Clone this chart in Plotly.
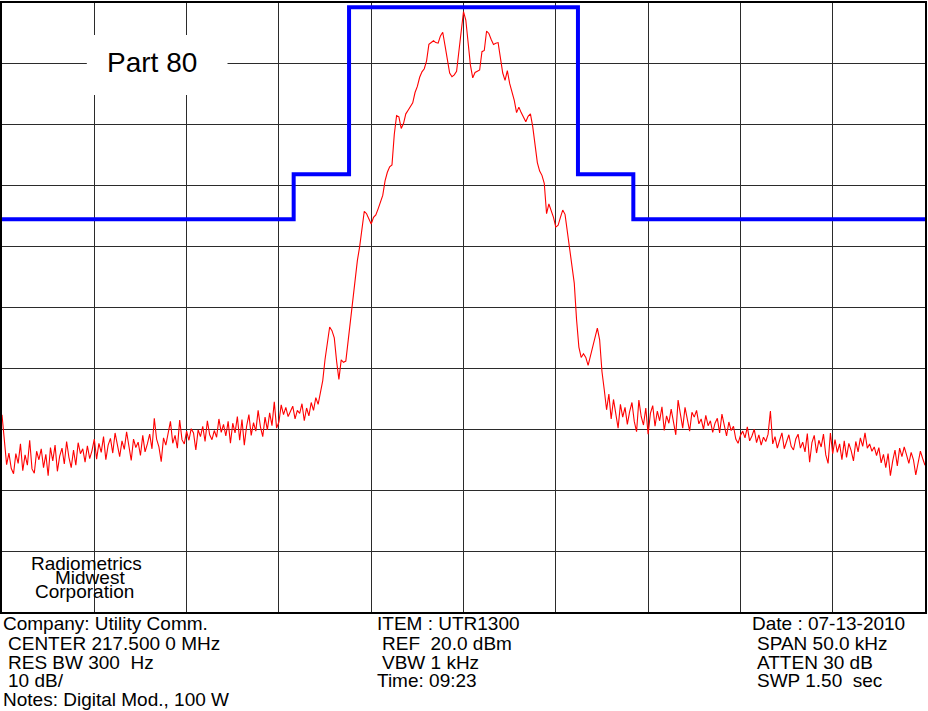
import numpy as np
import plotly.graph_objects as go

# Analyzer settings
CENTER_MHZ = 217.5
SPAN_KHZ = 50.0
REF_DBM = 20.0
DB_PER_DIV = 10.0
N_DIV = 10

# Swept trace, 401 points across the span (dBm)
LEVEL_DBM = [
    -47.6, -52.0, -55.8, -53.9, -56.4, -57.3, -54.0, -55.6, -52.4, -56.8,
    -54.2, -55.9, -51.8, -56.5, -57.2, -53.6, -55.0, -53.2, -56.3, -54.1,
    -57.6, -53.0, -55.2, -52.6, -56.9, -54.4, -53.1, -55.7, -52.0, -54.6,
    -56.3, -53.4, -55.9, -52.2, -54.0, -53.2, -55.4, -52.7, -54.8, -53.5,
    -51.6, -54.9, -52.3, -53.8, -51.2, -55.0, -52.6, -51.5, -53.9, -50.6,
    -52.8, -54.5, -51.9, -53.3, -50.4, -52.7, -55.1, -51.6, -53.0, -52.1,
    -54.3, -51.0, -53.7, -52.4, -50.8, -53.2, -48.2, -51.6, -52.9, -55.3,
    -51.4, -52.6, -50.9, -48.7, -52.3, -51.0, -53.1, -48.5, -51.7, -52.4,
    -50.3, -51.8, -49.9, -50.6, -53.4, -50.1, -51.2, -49.5, -52.0, -48.6,
    -50.9, -51.7, -50.2, -51.3, -48.3, -50.5, -49.2, -51.1, -48.7, -52.3,
    -49.0, -50.6, -47.9, -51.8, -48.4, -52.6, -49.5, -47.6, -51.0, -48.9,
    -50.3, -46.9, -49.6, -51.2, -48.0, -50.1, -47.3, -49.4, -45.5, -49.8,
    -48.8, -46.0, -47.6, -46.4, -47.9, -47.0, -46.2, -48.3, -46.9, -47.4,
    -45.8, -48.6, -46.5, -47.8, -45.6, -46.9, -44.8, -45.9, -43.6, -42.0,
    -38.5, -35.5, -33.2, -33.8, -35.0, -38.8, -41.8, -38.6, -39.0, -38.8,
    -35.5, -31.8, -29.0, -26.0, -22.3, -20.0, -17.5, -14.2, -14.6, -15.6,
    -16.3, -15.2, -14.8, -13.8, -12.8, -11.6, -9.2, -7.8, -6.9, -6.6,
    -1.6, 1.5, 1.3, -0.6, 0.2, 1.8, 2.4, 3.0, 3.6, 5.3,
    6.3, 7.8, 8.7, 9.2, 10.5, 13.2, 13.5, 13.8, 13.5, 13.4,
    14.6, 15.2, 13.0, 10.9, 8.5, 7.9, 8.2, 8.8, 12.0, 15.6,
    18.6, 17.2, 13.6, 9.8, 7.7, 8.6, 8.8, 9.0, 12.0, 12.2,
    15.4, 15.0, 14.0, 13.2, 13.4, 13.5, 11.0, 8.5, 7.3, 8.9,
    6.8, 5.3, 4.0, 2.0, 2.9, 2.0, 1.2, 0.5, 1.4, 1.8,
    -0.3, -3.5, -6.2, -7.6, -8.3, -9.6, -14.6, -13.0, -14.0, -15.2,
    -16.8, -16.5, -15.2, -14.0, -14.7, -17.5, -20.2, -23.2, -26.0, -32.0,
    -36.5, -38.2, -37.6, -38.2, -39.5, -38.0, -36.5, -34.5, -33.4, -35.3,
    -40.5, -43.5, -46.8, -44.2, -48.3, -45.1, -47.6, -49.8, -45.9, -48.0,
    -46.4, -49.2, -47.1, -45.6, -48.7, -50.4, -45.2, -47.9, -49.3, -46.5,
    -50.8, -47.4, -46.1, -49.5, -47.0, -48.6, -46.3, -50.2, -47.8, -49.0,
    -46.7, -48.5, -50.9, -45.2, -47.6, -49.8, -46.4, -48.1, -50.3, -47.2,
    -48.0, -46.9, -49.1, -48.3, -50.0, -47.7, -49.4, -48.6, -50.5, -49.0,
    -48.2, -50.6, -47.5, -49.3, -51.1, -48.8, -50.2, -49.5, -51.6, -52.3,
    -51.0, -50.3, -51.4, -49.6, -51.9, -51.1, -50.0, -52.2, -50.9, -52.6,
    -51.3, -52.0, -50.8, -47.0, -52.4, -51.2, -53.1, -51.8, -50.6, -53.2,
    -52.0, -50.9, -52.8, -53.4, -51.6, -50.8, -53.1, -52.1, -53.7, -50.7,
    -55.4, -52.2, -51.0, -53.9, -51.8, -52.9, -50.8, -54.2, -55.6, -50.6,
    -54.0, -51.7, -53.8, -52.4, -55.0, -51.9, -54.6, -52.3, -53.5, -55.2,
    -52.0, -53.7, -51.4, -52.8, -50.6, -53.1, -52.4, -53.6, -52.9, -54.3,
    -53.0, -55.5, -54.1, -56.3, -54.0, -57.6, -55.2, -53.4, -56.0, -53.1,
    -54.5, -52.9, -54.2, -55.6, -53.8, -55.0, -57.5, -55.4, -53.6, -54.8,
    -55.9,
]
freq_khz = np.linspace(-SPAN_KHZ / 2, SPAN_KHZ / 2, len(LEVEL_DBM))

# Part 80 emission mask (offset from center in kHz, limit in dBm)
MASK_KHZ = [-25.0, -9.2, -9.2, -6.2, -6.2, 6.2, 6.2, 9.2, 9.2, 25.0]
MASK_DBM = [-15.5, -15.5, -8.1, -8.1, 19.3, 19.3, -8.1, -8.1, -15.5, -15.5]

W, H = 928, 711
ML, MR, MT, MB = 2, 1, 3, 99
PW, PH = W - ML - MR, H - MT - MB


def px_x(p):
    return (p - ML) / PW


def px_y(p):
    return 1 - (p - MT) / PH


FONT = "Liberation Sans, Arial, sans-serif"

fig = go.Figure()
fig.add_trace(go.Scatter(
    x=freq_khz, y=LEVEL_DBM, mode="lines",
    line=dict(color="#ff0000", width=1.1), hoverinfo="skip",
))
fig.add_trace(go.Scatter(
    x=MASK_KHZ, y=MASK_DBM, mode="lines",
    line=dict(color="#0000ff", width=4), hoverinfo="skip",
))

grid = dict(showgrid=True, gridcolor="#2b2b2b", gridwidth=1.4,
            showticklabels=False, ticks="", zeroline=False,
            showline=True, mirror=True, linecolor="black", linewidth=1.5,
            fixedrange=True)
fig.update_xaxes(range=[-SPAN_KHZ / 2, SPAN_KHZ / 2], tick0=-SPAN_KHZ / 2,
                 dtick=SPAN_KHZ / N_DIV, **grid)
fig.update_yaxes(range=[REF_DBM - DB_PER_DIV * N_DIV, REF_DBM], tick0=REF_DBM,
                 dtick=DB_PER_DIV, **grid)

annotations = []


def text_at(txt, x, baseline, size=19, anchor="left"):
    annotations.append(dict(
        text=txt, xref="paper", yref="paper",
        x=px_x(x), y=px_y(baseline - 0.36 * size),
        xanchor=anchor, yanchor="middle", showarrow=False,
        borderpad=0, borderwidth=0,
        font=dict(family=FONT, size=size, color="black"),
    ))


# Title label with white backing
fig.add_shape(type="rect", xref="paper", yref="paper",
              x0=px_x(87), x1=px_x(228), y0=px_y(95), y1=px_y(35),
              fillcolor="white", line=dict(width=0), layer="above")
text_at("Part 80", 152, 72.7, size=28, anchor="center")

# Company block in the bottom-left cell
text_at("Radiometrics", 87, 570, anchor="center")
text_at("Midwest", 90, 584.3, anchor="center")
text_at("Corporation", 85, 598.3, anchor="center")

# Instrument settings below the graticule
rows = [
    ("Company: Utility Comm.", 2.7, 630.7),
    ("CENTER 217.500 0 MHz", 8.3, 650.0),
    ("RES BW 300\u00a0 Hz", 8.3, 669.3),
    ("10 dB/", 8.3, 687.7),
    ("Notes: Digital Mod., 100 W", 2.7, 706.7),
    ("ITEM : UTR1300", 378, 630.7),
    ("REF\u00a0 20.0 dBm", 383, 650.0),
    ("VBW 1 kHz", 383, 669.3),
    ("Time: 09:23", 378, 687.7),
    ("Date : 07-13-2010", 754, 630.7),
    ("SPAN 50.0 kHz", 759, 650.0),
    ("ATTEN 30 dB", 759, 669.3),
    ("SWP 1.50\u00a0 sec", 759, 687.7),
]
for txt, x, b in rows:
    text_at(txt, x, b)

fig.update_layout(
    width=W, height=H, margin=dict(l=ML, r=MR, t=MT, b=MB),
    paper_bgcolor="white", plot_bgcolor="white",
    showlegend=False, annotations=annotations,
    font=dict(family=FONT),
)

fig.write_html("out.html", config={"displayModeBar": False})
